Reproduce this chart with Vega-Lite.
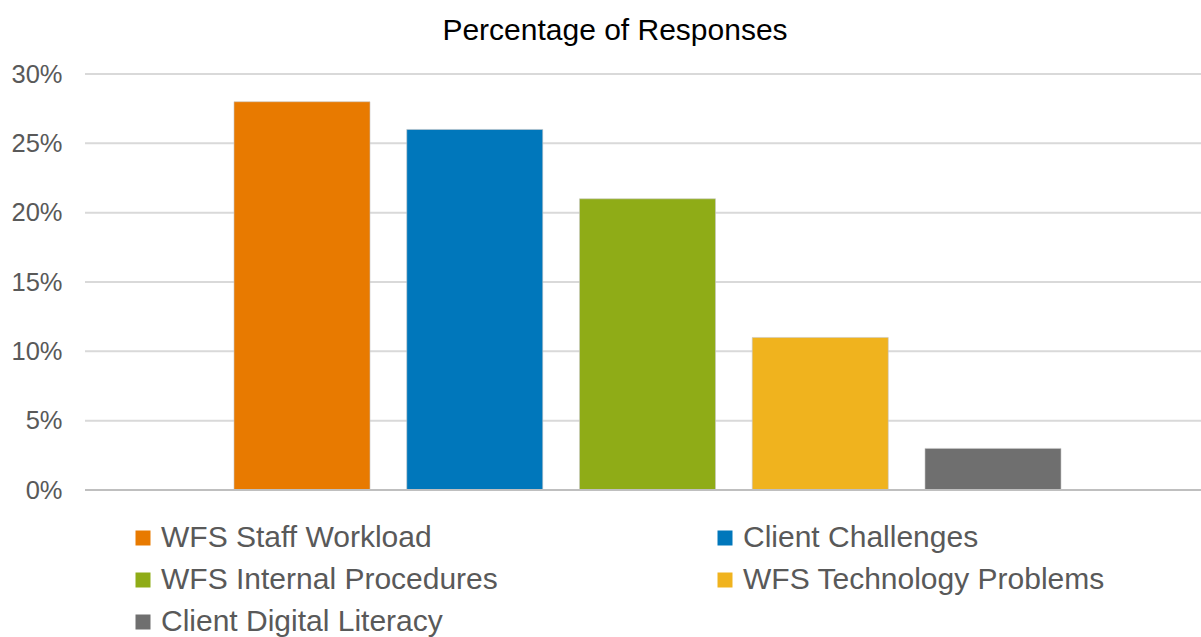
{
  "$schema": "https://vega.github.io/schema/vega-lite/v6.json",
  "autosize": {"type": "none"},
  "width": 1116,
  "height": 416,
  "padding": {"left": 85, "top": 74, "right": 0, "bottom": 147},
  "background": "white",
  "title": {
    "text": "Percentage of Responses",
    "font": "Liberation Sans",
    "fontSize": 30,
    "fontWeight": "normal",
    "color": "#000000",
    "anchor": "middle",
    "frame": "group",
    "dx": -28,
    "offset": 16
  },
  "datasets": {
    "bars": [
      {"category": "WFS Staff Workload", "pct": 0.28},
      {"category": "Client Challenges", "pct": 0.26},
      {"category": "WFS Internal Procedures", "pct": 0.21},
      {"category": "WFS Technology Problems", "pct": 0.11},
      {"category": "Client Digital Literacy", "pct": 0.03}
    ],
    "grid": [
      {"v": 0.05}, {"v": 0.1}, {"v": 0.15}, {"v": 0.2}, {"v": 0.25}, {"v": 0.3}
    ]
  },
  "config": {
    "view": {"stroke": null},
    "font": "Liberation Sans"
  },
  "layer": [
    {
      "data": {"name": "grid"},
      "mark": {"type": "rule", "color": "#d9d9d9", "strokeWidth": 2},
      "encoding": {
        "y": {
          "field": "v",
          "type": "quantitative",
          "scale": {"domain": [0, 0.3], "nice": false},
          "axis": {
            "values": [0, 0.05, 0.1, 0.15, 0.2, 0.25, 0.3],
            "format": ".0%",
            "title": null,
            "domain": false,
            "ticks": false,
            "grid": false,
            "labelPadding": 23,
            "labelFont": "Liberation Sans",
            "labelFontSize": 25.5,
            "labelColor": "#595959"
          }
        }
      }
    },
    {
      "data": {"name": "bars"},
      "mark": {"type": "bar", "stroke": "#c8c8c8", "strokeWidth": 0.6},
      "encoding": {
        "x": {
          "field": "category",
          "type": "nominal",
          "sort": null,
          "axis": null,
          "scale": {"range": [149, 976], "paddingInner": 0.2127, "paddingOuter": 0}
        },
        "y": {
          "field": "pct",
          "type": "quantitative",
          "scale": {"domain": [0, 0.3], "nice": false}
        },
        "color": {
          "field": "category",
          "type": "nominal",
          "sort": null,
          "scale": {
            "domain": ["WFS Staff Workload", "Client Challenges", "WFS Internal Procedures", "WFS Technology Problems", "Client Digital Literacy"],
            "range": ["#E87A00", "#0077BB", "#8FAC17", "#F0B31E", "#6F6F6F"]
          },
          "legend": {
            "title": null,
            "orient": "none",
            "legendX": 43,
            "legendY": 449,
            "direction": "horizontal",
            "columns": 2,
            "columnPadding": 212,
            "rowPadding": 12,
            "symbolType": "square",
            "symbolSize": 225,
            "symbolStrokeWidth": 0,
            "labelFont": "Liberation Sans",
            "labelFontSize": 30,
            "labelColor": "#595959",
            "labelOffset": 3,
            "labelLimit": 600
          }
        }
      }
    },
    {
      "data": {"name": "bars"},
      "mark": {"type": "rule", "color": "#bfbfbf", "strokeWidth": 2},
      "encoding": {"y": {"datum": 0}}
    }
  ]
}
